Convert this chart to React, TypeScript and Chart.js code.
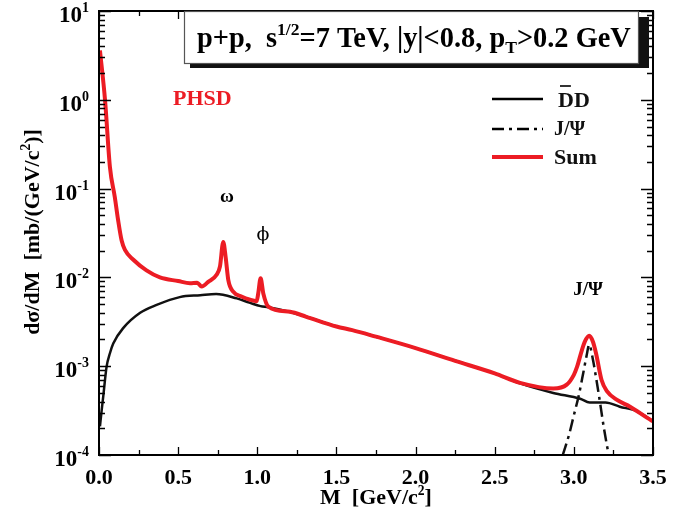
import React, { useEffect, useRef } from 'react';
import { Chart, registerables } from 'chart.js';

Chart.register(...registerables);

// ---------- data ----------
const ddMass = [0.006, 0.017, 0.027, 0.048, 0.069, 0.09, 0.154, 0.26, 0.364, 0.51, 0.64, 0.74, 0.87, 0.95, 1.02, 1.07, 1.2, 1.31, 1.5, 1.6, 1.75, 2.0, 2.25, 2.5, 2.66, 2.87, 3.04, 3.1, 3.2, 3.29, 3.4, 3.5];
const ddValue = [2.1e-4, 3.2e-4, 4.6e-4, 9.9e-4, 1.4e-3, 1.8e-3, 2.7e-3, 4.0e-3, 4.9e-3, 6.0e-3, 6.3e-3, 6.5e-3, 5.8e-3, 5.2e-3, 4.75e-3, 4.6e-3, 4.1e-3, 3.6e-3, 2.8e-3, 2.55e-3, 2.15e-3, 1.6e-3, 1.15e-3, 8.3e-4, 6.4e-4, 5.0e-4, 4.3e-4, 3.9e-4, 3.9e-4, 3.5e-4, 3.1e-4, 2.4e-4];

const jpsiMass = [2.93, 2.97, 3.0, 3.03, 3.06, 3.08, 3.097, 3.12, 3.14, 3.16, 3.19, 3.22];
const jpsiValue = [1.0e-4, 1.7e-4, 2.8e-4, 4.6e-4, 8.5e-4, 1.3e-3, 1.75e-3, 1.2e-3, 7.5e-4, 4.5e-4, 2.0e-4, 1.0e-4];

const sumMass = [0.006, 0.038, 0.069, 0.1, 0.12, 0.143, 0.164, 0.217, 0.3, 0.385, 0.5, 0.575, 0.62, 0.649, 0.69, 0.743, 0.764, 0.785, 0.8, 0.817, 0.848, 0.9, 0.954, 0.996, 1.006, 1.021, 1.038, 1.07, 1.207, 1.31, 1.5, 1.6, 1.75, 2.0, 2.25, 2.5, 2.66, 2.87, 2.955, 3.0, 3.02, 3.05, 3.07, 3.097, 3.12, 3.14, 3.175, 3.21, 3.27, 3.355, 3.49, 3.5];
const sumValue = [3.6, 1.0, 0.175, 0.08, 0.045, 0.026, 0.0204, 0.0158, 0.012, 0.010, 0.0091, 0.0086, 0.0087, 0.0079, 0.0089, 0.0107, 0.0132, 0.025, 0.017, 0.0093, 0.0069, 0.0061, 0.0056, 0.0054, 0.0066, 0.0098, 0.0066, 0.0047, 0.0041, 0.0036, 2.8e-3, 2.55e-3, 2.15e-3, 1.6e-3, 1.15e-3, 8.3e-4, 6.5e-4, 5.6e-4, 6.2e-4, 8.0e-4, 9.8e-4, 1.5e-3, 1.9e-3, 2.2e-3, 1.9e-3, 1.4e-3, 7.0e-4, 5.2e-4, 4.2e-4, 3.5e-4, 2.45e-4, 2.4e-4];

const xTickValues = [0, 0.5, 1.0, 1.5, 2.0, 2.5, 3.0, 3.5];
const xTickLabels = ['0.0', '0.5', '1.0', '1.5', '2.0', '2.5', '3.0', '3.5'];
const yDecades = [-4, -3, -2, -1, 0, 1];

const seriesNames = ['D\u0305D', 'J/\u03A8', 'Sum'];

const RED = '#ec1c24';
const FONT = "'Liberation Serif', 'Times New Roman', serif";

type Part = { t: string; k: 'n' | 'sup' | 'sub' };

function richWidth(ctx: CanvasRenderingContext2D, parts: Part[], size: number) {
  let w = 0;
  for (const p of parts) {
    const s = p.k === 'n' ? size : size * 0.62;
    ctx.font = `bold ${s}px ${FONT}`;
    w += ctx.measureText(p.t).width;
  }
  return w;
}

function drawRich(ctx: CanvasRenderingContext2D, parts: Part[], x: number, y: number, size: number) {
  let cx = x;
  for (const p of parts) {
    const s = p.k === 'n' ? size : size * 0.62;
    ctx.font = `bold ${s}px ${FONT}`;
    const dy = p.k === 'sup' ? -size * 0.42 : p.k === 'sub' ? size * 0.22 : 0;
    ctx.fillText(p.t, cx, y + dy);
    cx += ctx.measureText(p.t).width;
  }
}

const decorPlugin = {
  id: 'decor',
  afterDraw(chart: any) {
    const ctx: CanvasRenderingContext2D = chart.ctx;
    const xs = chart.scales.x;
    const ys = chart.scales.y;
    const { left, right, top, bottom } = chart.chartArea;
    ctx.save();
    ctx.textBaseline = 'alphabetic';

    // frame
    ctx.strokeStyle = '#000';
    ctx.lineWidth = 2;
    ctx.strokeRect(left, top, right - left, bottom - top);

    // y ticks (log)
    ctx.lineWidth = 1.3;
    ctx.beginPath();
    for (const d of yDecades) {
      for (let k = 1; k <= 9; k++) {
        if (d === 1 && k > 1) break;
        const v = k * Math.pow(10, d);
        const py = Math.round(ys.getPixelForValue(v)) + 0.5;
        const len = k === 1 ? 12 : 6;
        ctx.moveTo(left, py); ctx.lineTo(left + len, py);
        ctx.moveTo(right, py); ctx.lineTo(right - len, py);
      }
    }
    // x ticks
    for (let i = 0; i <= 14; i++) {
      const v = i * 0.25;
      const px = Math.round(xs.getPixelForValue(v)) + 0.5;
      const len = i % 2 === 0 ? 8 : 5;
      ctx.moveTo(px, bottom); ctx.lineTo(px, bottom - len);
      ctx.moveTo(px, top); ctx.lineTo(px, top + len);
    }
    ctx.stroke();

    ctx.fillStyle = '#000';
    // y tick labels
    for (const d of yDecades) {
      const py = ys.getPixelForValue(Math.pow(10, d));
      const exp = d < 0 ? '-' + Math.abs(d) : String(d);
      ctx.font = `bold 14px ${FONT}`;
      const ew = ctx.measureText(exp).width;
      ctx.font = `bold 23px ${FONT}`;
      const bw = ctx.measureText('10').width;
      const xEnd = 89;
      const base = py + 11;
      ctx.fillText('10', xEnd - ew - bw, base);
      ctx.font = `bold 14px ${FONT}`;
      ctx.fillText(exp, xEnd - ew, base - 10);
    }
    // x tick labels
    ctx.font = `bold 22px ${FONT}`;
    ctx.textAlign = 'center';
    xTickValues.forEach((v, i) => {
      ctx.fillText(xTickLabels[i], xs.getPixelForValue(v), 484);
    });
    ctx.textAlign = 'left';

    // x title
    const xt: Part[] = [{ t: 'M  [GeV/c', k: 'n' }, { t: '2', k: 'sup' }, { t: ']', k: 'n' }];
    const xw = richWidth(ctx, xt, 22);
    drawRich(ctx, xt, 376 - xw / 2, 504, 22);

    // y title
    const yt: Part[] = [{ t: 'd\u03C3/dM  [mb/(GeV/c', k: 'n' }, { t: '2', k: 'sup' }, { t: ')]', k: 'n' }];
    const yw = richWidth(ctx, yt, 22);
    ctx.save();
    ctx.translate(39, 232);
    ctx.rotate(-Math.PI / 2);
    drawRich(ctx, yt, -yw / 2, 0, 22);
    ctx.restore();

    // title box with shadow
    ctx.fillStyle = '#111';
    ctx.fillRect(190, 17, 649 - 190, 68 - 17);
    ctx.fillStyle = '#fff';
    ctx.fillRect(184, 11, 638 - 184, 63 - 11);
    ctx.strokeStyle = '#555';
    ctx.lineWidth = 1.2;
    ctx.strokeRect(184.5, 11.5, 638 - 184, 63 - 11);
    ctx.fillStyle = '#000';
    const tt: Part[] = [
      { t: 'p+p,  s', k: 'n' }, { t: '1/2', k: 'sup' }, { t: '=7 TeV, |y|<0.8, p', k: 'n' },
      { t: 'T', k: 'sub' }, { t: '>0.2 GeV', k: 'n' },
    ];
    const tw0 = richWidth(ctx, tt, 28);
    const ts = 28 * 434 / tw0;
    drawRich(ctx, tt, 197, 47, ts);

    // PHSD
    ctx.fillStyle = RED;
    ctx.font = `bold 22px ${FONT}`;
    ctx.fillText('PHSD', 173, 105);

    // legend
    ctx.lineCap = 'butt';
    ctx.strokeStyle = '#000';
    ctx.lineWidth = 2.5;
    ctx.beginPath(); ctx.moveTo(492, 99); ctx.lineTo(543, 99); ctx.stroke();
    ctx.setLineDash([12, 5, 3, 5]);
    ctx.beginPath(); ctx.moveTo(492, 129); ctx.lineTo(543, 129); ctx.stroke();
    ctx.setLineDash([]);
    ctx.strokeStyle = RED;
    ctx.lineWidth = 4;
    ctx.beginPath(); ctx.moveTo(492, 157); ctx.lineTo(543, 157); ctx.stroke();

    ctx.fillStyle = '#111';
    ctx.font = `bold 22px ${FONT}`;
    const ddLabel = seriesNames[0].replace('\u0305', '');
    ctx.fillText(ddLabel, 558, 107);
    const dW = ctx.measureText('D').width;
    ctx.fillStyle = '#333';
    ctx.fillRect(560, 85, dW - 5, 2);
    ctx.fillStyle = '#111';
    ctx.font = `bold 20px ${FONT}`;
    ctx.fillText(seriesNames[1], 554, 135);
    ctx.font = `bold 22px ${FONT}`;
    ctx.fillText(seriesNames[2], 554, 164);

    // peak annotations
    ctx.fillStyle = '#000';
    ctx.textAlign = 'center';
    ctx.font = `bold 19px ${FONT}`;
    ctx.fillText('\u03C9', 227, 202);
    ctx.font = `19px 'DejaVu Serif', ${FONT}`;
    ctx.fillText('\u03D5', 263, 240);
    ctx.font = `bold 19px ${FONT}`;
    ctx.fillText('J/\u03A8', 588, 295);
    ctx.restore();
  },
};

export default function App() {
  const ref = useRef<HTMLCanvasElement>(null);
  useEffect(() => {
    document.body.style.margin = '0';
    const canvas = ref.current!;
    const mk = (xsArr: number[], ysArr: number[]) => xsArr.map((x, i) => ({ x, y: ysArr[i] }));
    const chart = new Chart(canvas, {
      type: 'scatter',
      data: {
        datasets: [
          {
            label: seriesNames[0],
            data: mk(ddMass, ddValue),
            showLine: true,
            borderColor: '#111',
            borderWidth: 2.5,
            pointRadius: 0,
            cubicInterpolationMode: 'monotone',
            order: 3,
          },
          {
            label: seriesNames[1],
            data: mk(jpsiMass, jpsiValue),
            showLine: true,
            borderColor: '#111',
            borderWidth: 2.5,
            borderDash: [12, 5, 3, 5],
            pointRadius: 0,
            cubicInterpolationMode: 'monotone',
            order: 2,
          },
          {
            label: seriesNames[2],
            data: mk(sumMass, sumValue),
            showLine: true,
            borderColor: RED,
            borderWidth: 4,
            pointRadius: 0,
            cubicInterpolationMode: 'monotone',
            order: 1,
          },
        ],
      } as any,
      options: {
        animation: false,
        responsive: false,
        devicePixelRatio: 1,
        layout: { padding: { left: 99, right: 43, top: 11, bottom: 57 } },
        plugins: { legend: { display: false }, tooltip: { enabled: false } },
        scales: {
          x: { type: 'linear', min: 0, max: 3.5, display: false },
          y: { type: 'logarithmic', min: 1e-4, max: 10, display: false },
        },
      } as any,
      plugins: [decorPlugin],
    });
    return () => chart.destroy();
  }, []);
  return (
    <div style={{ position: 'absolute', left: 0, top: 0, background: '#fff' }}>
      <canvas ref={ref} width={696} height={512} />
    </div>
  );
}
